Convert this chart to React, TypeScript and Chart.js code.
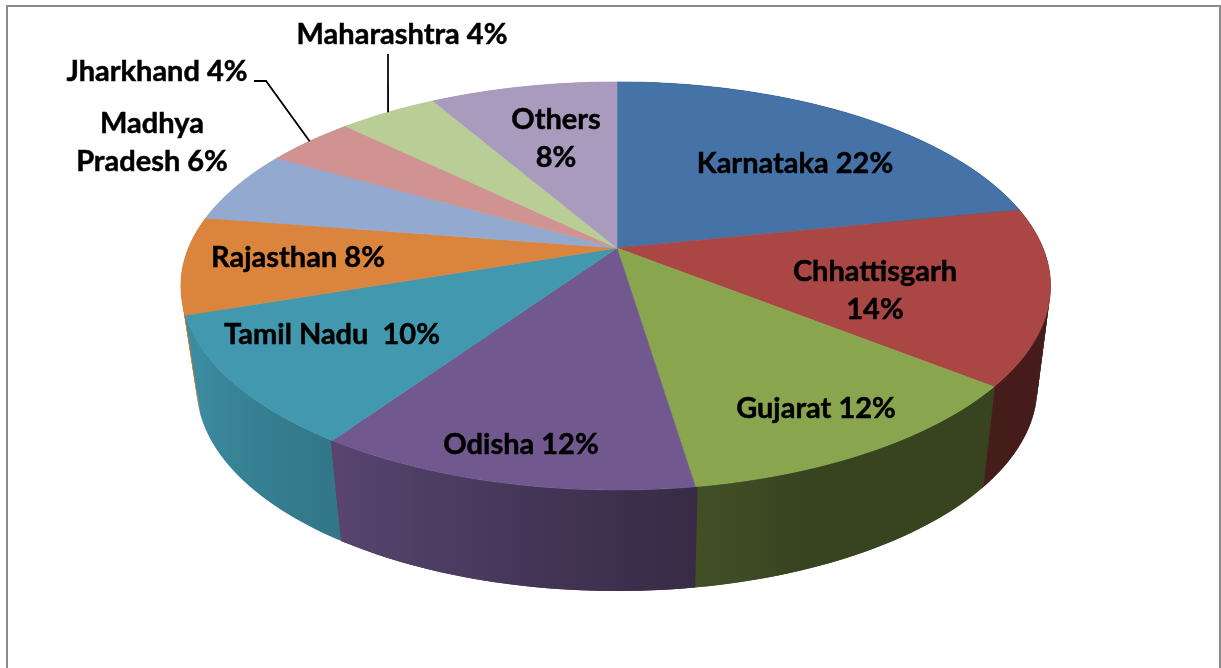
import React, { useEffect, useRef } from "react";
import { Chart, registerables } from "chart.js";

Chart.register(...registerables);

const categories = ["Karnataka", "Chhattisgarh", "Gujarat", "Odisha", "Tamil Nadu", "Rajasthan", "Madhya Pradesh", "Jharkhand", "Maharashtra", "Others"];
const shares = [21.8, 13.9, 11.9, 11.9, 10.3, 7.7, 5.8, 4.0, 4.4, 8.3];
const sliceColors = ["#4572A7", "#AA4643", "#89A54E", "#71588F", "#4198AF", "#DB843D", "#93A9CF", "#D19392", "#B9CD96", "#A99BBD"];
const sliceLabels = [
  ["Karnataka 22%"],
  ["Chhattisgarh", "14%"],
  ["Gujarat 12%"],
  ["Odisha 12%"],
  ["Tamil Nadu  10%"],
  ["Rajasthan 8%"],
  ["Madhya", "Pradesh 6%"],
  ["Jharkhand 4%"],
  ["Maharashtra 4%"],
  ["Others", "8%"],
];

// Label placement (text centre of the first line), leader elbows for outside labels.
const labelAnchors: [number, number][] = [
  [795, 163], [875, 271], [816, 408], [521, 444], [332, 334],
  [298, 257], [152, 123], [157, 71], [402, 34], [556, 119],
];
const leaderStarts: Record<number, [number, number][]> = {
  7: [[254, 81], [266, 81]],
  8: [[388, 54]],
};

// Perspective of the disc.
const CX = 617, CY_TOP = 248, CY_BOTTOM = 349, RX_TOP = 426, RX_TOP_LEFT = 428.5, RX_BOTTOM = 413, RY = 197, PERSP = 0.186;
const LINE_HEIGHT = 38;
const FONT = "bold 29px Lato";
const WALL_STEP = Math.PI / 180;

const project = (theta: number, bottom = false): [number, number] => {
  const u = Math.sin(theta), v = -Math.cos(theta), w = 1 - PERSP * v;
  const rx = bottom ? RX_BOTTOM : u < 0 ? RX_TOP_LEFT : RX_TOP;
  return [CX + (rx * u) / w, (bottom ? CY_BOTTOM : CY_TOP) + (RY * v) / w];
};

const shadeStops: [number, number][] = [[0, 0.4], [158, 0.41], [172, 0.49], [215, 0.78], [251.5, 0.92], [252, 1], [360, 1]];
const shadeAt = (deg: number) => {
  const d = ((deg % 360) + 360) % 360;
  for (let i = 1; i < shadeStops.length; i++) {
    const [a, fa] = shadeStops[i - 1], [b, fb] = shadeStops[i];
    if (d <= b) return fa + ((fb - fa) * (d - a)) / (b - a);
  }
  return 1;
};
const shaded = (hex: string, f: number) => {
  const n = parseInt(hex.slice(1), 16);
  return `rgb(${Math.round(((n >> 16) & 255) * f)},${Math.round(((n >> 8) & 255) * f)},${Math.round((n & 255) * f)})`;
};

const pie3d = {
  id: "pie3d",
  beforeDraw(chart: any) {
    const { ctx, width, height } = chart;
    ctx.save();
    ctx.fillStyle = "#fff";
    ctx.fillRect(0, 0, width, height);
    ctx.strokeStyle = "#8a8a8a";
    ctx.lineWidth = 2;
    ctx.strokeRect(7, 6, 1213, height + 20);
    ctx.restore();
  },
  beforeDatasetDraw(chart: any) {
    const { ctx } = chart;
    const arcs = chart.getDatasetMeta(0).data;
    const toTheta = (a: number) => a + Math.PI / 2;
    ctx.save();
    // Side wall: overlapping quads of one shared gradient per slice, slices back to front.
    const order = arcs
      .map((arc: any, i: number) => ({ i, s: toTheta(arc.startAngle), e: toTheta(arc.endAngle) }))
      .sort((a: any, b: any) => -Math.cos((a.s + a.e) / 2) + Math.cos((b.s + b.e) / 2));
    for (const { i, s, e } of order) {
      const n = Math.ceil((e - s) / WALL_STEP);
      const x0 = project(s, true)[0], x1 = project(e, true)[0];
      const grad = ctx.createLinearGradient(x0, 0, x1 === x0 ? x0 + 1 : x1, 0);
      let last = 0;
      for (let k = 0; k <= 12; k++) {
        const t = s + ((e - s) * k) / 12;
        const off = Math.max(last, Math.min(1, (project(t, true)[0] - x0) / (x1 - x0)));
        last = off;
        grad.addColorStop(off, shaded(sliceColors[i], shadeAt((t * 180) / Math.PI)));
      }
      ctx.fillStyle = grad;
      const lo = s - WALL_STEP * 0.25, hi = e + WALL_STEP * 0.25;
      for (let k = 0; k < n; k++) {
        const t0 = lo + ((hi - lo) * k) / n;
        const t1 = Math.min(hi, lo + ((hi - lo) * (k + 2)) / n);
        const a = project(t0), b = project(t1), c = project(t1, true), d = project(t0, true);
        ctx.beginPath();
        ctx.moveTo(a[0], a[1]);
        ctx.lineTo(b[0], b[1]);
        ctx.lineTo(c[0], c[1]);
        ctx.lineTo(d[0], d[1]);
        ctx.closePath();
        ctx.fill();
      }
    }
    // Top face.
    arcs.forEach((arc: any, i: number) => {
      const s = toTheta(arc.startAngle), e = toTheta(arc.endAngle);
      const n = Math.ceil((e - s) / (Math.PI / 360));
      ctx.beginPath();
      ctx.moveTo(CX, CY_TOP);
      for (let k = 0; k <= n; k++) {
        const p = project(s + ((e - s) * k) / n);
        ctx.lineTo(p[0], p[1]);
      }
      ctx.closePath();
      ctx.fillStyle = sliceColors[i];
      ctx.strokeStyle = sliceColors[i];
      ctx.lineWidth = 0.6;
      ctx.fill();
      ctx.stroke();
    });
    ctx.restore();
    return false;
  },
  afterDatasetsDraw(chart: any) {
    const { ctx } = chart;
    const arcs = chart.getDatasetMeta(0).data;
    ctx.save();
    ctx.strokeStyle = "#000";
    ctx.lineWidth = 1.8;
    Object.keys(leaderStarts).forEach((key) => {
      const i = Number(key), arc = arcs[i];
      const end = project((arc.startAngle + arc.endAngle) / 2 + Math.PI / 2);
      const pts = leaderStarts[i];
      ctx.beginPath();
      ctx.moveTo(pts[0][0], pts[0][1]);
      pts.slice(1).forEach((p) => ctx.lineTo(p[0], p[1]));
      ctx.lineTo(end[0], end[1]);
      ctx.stroke();
    });
    ctx.fillStyle = "#000";
    ctx.strokeStyle = "#000";
    ctx.lineWidth = 0.5;
    ctx.font = FONT;
    ctx.textAlign = "center";
    ctx.textBaseline = "middle";
    sliceLabels.forEach((lines, i) => {
      const [x, y] = labelAnchors[i];
      lines.forEach((line, j) => {
        ctx.fillText(line, x, y + 1 + j * LINE_HEIGHT);
        ctx.strokeText(line, x, y + 1 + j * LINE_HEIGHT);
      });
    });
    ctx.restore();
  },
};

export default function App() {
  const ref = useRef<HTMLCanvasElement>(null);
  useEffect(() => {
    const chart = new Chart(ref.current!, {
      type: "pie",
      data: { labels: categories, datasets: [{ data: shares, backgroundColor: sliceColors, borderWidth: 0 }] },
      options: {
        responsive: false,
        animation: false,
        layout: { padding: 0 },
        plugins: { legend: { display: false }, tooltip: { enabled: false } },
      },
      plugins: [pie3d],
    } as any);
    return () => chart.destroy();
  }, []);
  return <canvas ref={ref} width={1221} height={668} style={{ position: "absolute", left: 0, top: 0, display: "block" }} />;
}
